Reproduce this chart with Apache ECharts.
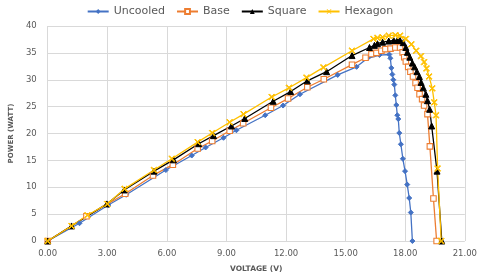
<!DOCTYPE html>
<html><head><meta charset="utf-8">
<script src="https://cdn.jsdelivr.net/npm/echarts@6/dist/echarts.min.js"></script>
<style>html,body{margin:0;padding:0;background:#fff}#c{width:480px;height:278px}</style>
</head><body><div id="c"></div>
<script>
const seriesNames = ['Uncooled', 'Base', 'Square', 'Hexagon'];
const xTicks = [0, 3, 6, 9, 12, 15, 18, 21];
const yTicks = [0, 5, 10, 15, 20, 25, 30, 35, 40];
const uncooled = [[0,0],[1.6,3.3],[3.05,6.7],[3.95,8.6],[5.95,13.2],[7.25,15.9],[7.95,17.4],[8.85,19.2],[9.5,20.6],[10.95,23.4],[11.85,25.2],[12.7,27.3],[14.6,30.9],[15.55,32.4],[16.1,34.0],[16.7,34.6],[17.2,34.7],[17.25,34.0],[17.3,32.2],[17.35,31.0],[17.4,30.0],[17.45,29.1],[17.5,27.1],[17.55,25.3],[17.6,23.4],[17.65,22.7],[17.7,20.1],[17.78,18.0],[17.88,15.3],[17.99,13.0],[18.1,10.5],[18.2,8.0],[18.28,5.3],[18.36,0]];
const base = [[0,0],[1.95,4.6],[3.9,8.8],[5.3,12.2],[6.3,14.2],[7.55,17.2],[8.28,18.6],[9.16,20.5],[9.84,21.9],[11.24,24.8],[12.1,26.5],[13.07,28.6],[13.9,30.1],[15.32,32.8],[16.0,34.1],[16.3,34.8],[16.55,35.0],[16.8,35.4],[17.0,35.7],[17.26,35.8],[17.5,36.0],[17.74,36.0],[17.87,35.1],[17.95,34.2],[18.03,33.4],[18.15,32.4],[18.26,31.5],[18.39,30.6],[18.52,29.4],[18.62,28.5],[18.72,27.3],[18.85,26.4],[18.95,25.2],[19.12,23.6],[19.24,17.6],[19.42,7.9],[19.58,0]];
const square = [[0,0],[1.2,2.8],[2.98,6.9],[3.85,9.5],[5.35,13.0],[6.33,15.1],[7.6,18.1],[8.35,19.6],[9.25,21.4],[9.92,22.8],[11.35,26.0],[12.23,27.8],[13.07,29.8],[14.04,31.5],[15.32,34.5],[16.2,36.0],[16.45,36.4],[16.6,36.7],[16.86,37.0],[17.17,37.2],[17.42,37.3],[17.6,37.3],[17.74,37.3],[17.9,36.9],[18.03,36.0],[18.11,35.1],[18.23,34.2],[18.36,33.1],[18.47,32.4],[18.59,31.5],[18.71,30.6],[18.8,29.5],[18.91,28.5],[19.04,27.3],[19.12,26.1],[19.23,24.5],[19.33,21.4],[19.6,13.0],[19.84,0]];
const hexagon = [[0,0],[1.2,2.8],[2.0,4.8],[3.0,6.9],[3.87,9.7],[5.35,13.2],[6.25,15.3],[7.55,18.4],[8.28,20.1],[9.16,22.1],[9.86,23.6],[11.28,26.8],[12.15,28.5],[13.03,30.4],[13.88,32.3],[15.32,35.4],[16.4,37.6],[16.6,37.8],[16.86,37.9],[17.17,38.2],[17.5,38.3],[17.74,38.2],[18.03,37.6],[18.31,36.6],[18.55,35.4],[18.79,34.4],[18.95,33.3],[19.07,32.1],[19.2,30.6],[19.36,28.4],[19.46,25.8],[19.55,23.4],[19.63,13.5],[19.81,0]];

const FONT = 'DejaVu Sans';
const TXT = '#595959';
const xMark = 'path://M1,0L5,4L9,0L10,1L6,5L10,9L9,10L5,6L1,10L0,9L4,5L0,1Z';
const chart = echarts.init(document.getElementById('c'), null, {renderer: 'canvas'});
function mk(name, data, color, symbol, size, extra) {
  return Object.assign({
    name: name, type: 'line', data: data, symbol: symbol, symbolSize: size,
    showSymbol: true, animation: false,
    lineStyle: {color: color, width: 1.3},
    itemStyle: {color: color, borderColor: color}
  }, extra || {});
}
chart.setOption({
  animation: false,
  textStyle: {fontFamily: FONT},
  grid: {left: 37, right: 9, top: 26, bottom: 30},
  legend: {
    top: 1, left: 'center', itemWidth: 21, itemHeight: 6, itemGap: 11,
    textStyle: {color: TXT, fontSize: 11, fontFamily: FONT},
    data: seriesNames
  },
  xAxis: {
    type: 'value', min: xTicks[0], max: xTicks[xTicks.length-1], interval: 3,
    name: 'VOLTAGE (V)', nameLocation: 'middle', nameGap: 24,
    nameTextStyle: {color: TXT, fontSize: 7.5, fontWeight: 'bold', fontFamily: FONT},
    axisLine: {show: false}, axisTick: {show: false},
    axisLabel: {color: TXT, fontSize: 8.5, margin: 8, formatter: v => v.toFixed(2)},
    splitLine: {show: true, lineStyle: {color: '#d9d9d9', width: 1}}
  },
  yAxis: {
    type: 'value', min: yTicks[0], max: yTicks[yTicks.length-1], interval: 5,
    name: 'POWER (WATT)', nameLocation: 'middle', nameGap: 29, nameRotate: 90,
    nameTextStyle: {color: TXT, fontSize: 7, fontWeight: 'bold', fontFamily: FONT},
    axisLine: {show: false}, axisTick: {show: false},
    axisLabel: {color: TXT, fontSize: 8.5, margin: 11},
    splitLine: {show: true, lineStyle: {color: '#d9d9d9', width: 1}}
  },
  series: [
    mk(seriesNames[0], uncooled, '#4472C4', 'diamond', 5),
    mk(seriesNames[1], base, '#ED7D31', 'rect', 5.5, {itemStyle: {color: '#fff', borderColor: '#ED7D31', borderWidth: 1.1}}),
    mk(seriesNames[2], square, '#000000', 'triangle', 6),
    mk(seriesNames[3], hexagon, '#FFC000', xMark, 6)
  ]
});
</script></body></html>
